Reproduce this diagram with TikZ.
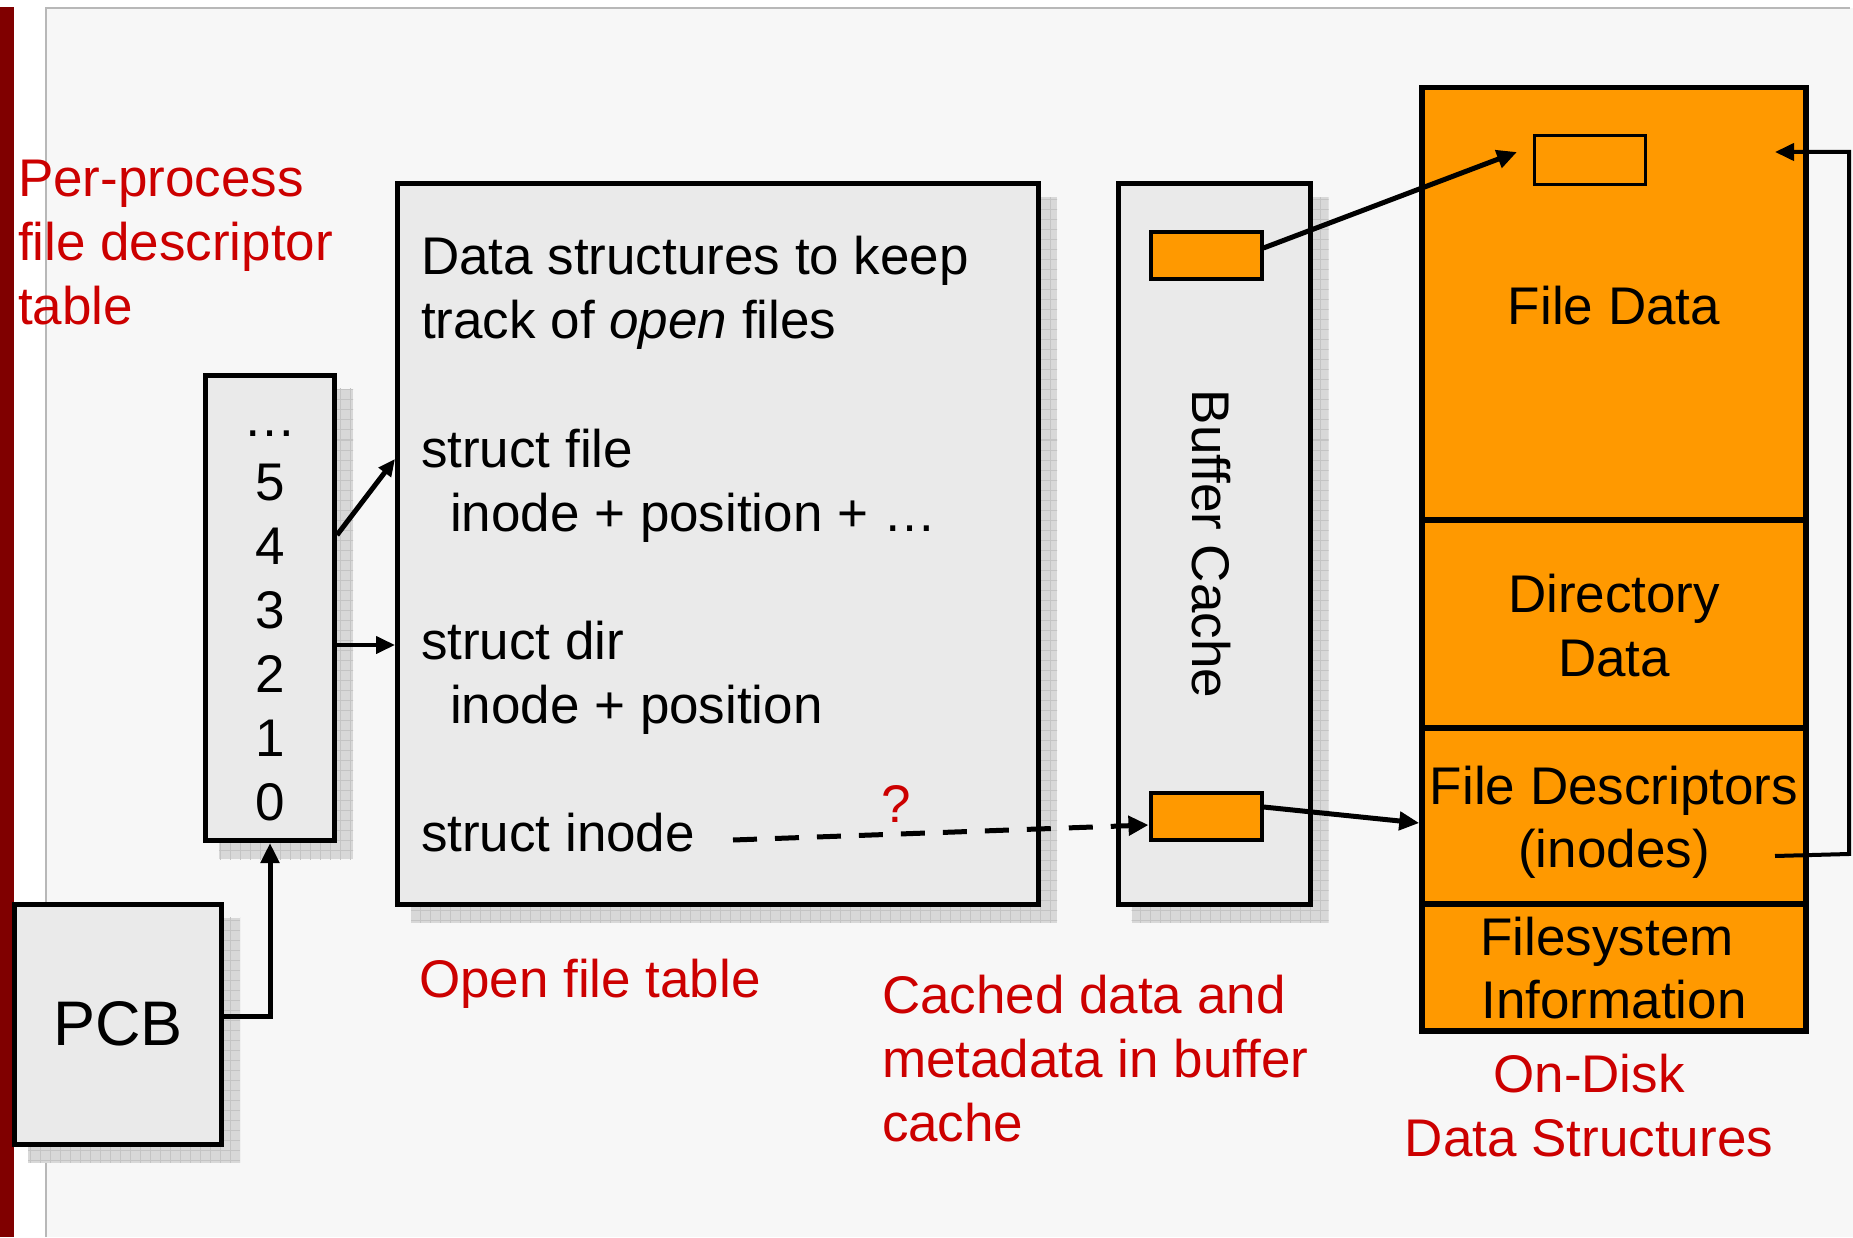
\documentclass[tikz,border=0pt]{standalone}
\usepackage{fontspec}
\setmainfont{Liberation Sans}
\usetikzlibrary{arrows.meta,calc}
\pgfdeclarelayer{back}
\pgfsetlayers{back,main}

\definecolor{slidered}{RGB}{128,0,0}
\definecolor{labelred}{RGB}{204,0,0}
\definecolor{diskorange}{RGB}{255,153,0}
\definecolor{boxgray}{RGB}{234,234,234}
\definecolor{pagebg}{RGB}{247,247,247}
\definecolor{framegray}{RGB}{184,184,184}
\definecolor{shadowfill}{RGB}{216,216,216}
\definecolor{shadowgrid}{RGB}{196,196,196}

\newcommand\mainsize{\fontsize{53pt}{64pt}\selectfont}
\newcommand\pcbsize{\fontsize{63pt}{75pt}\selectfont}

% flat grid-textured drop shadow, offset down-right, under a named box
\newcommand\castshadow[1]{%
  \begin{pgfonlayer}{back}
    \begin{scope}
      \clip ($(#1.north west)+(16,16)$) rectangle ($(#1.south east)+(16,16)$);
      \fill[shadowfill] ($(#1.north west)+(16,16)$) rectangle ($(#1.south east)+(16,16)$);
      \draw[shadowgrid, line width=1pt, step=10pt]
        ($(#1.north west)+(6,6)$) grid ($(#1.south east)+(26,26)$);
    \end{scope}
  \end{pgfonlayer}}

\begin{document}
\begin{tikzpicture}[x=1pt, y=-1pt,
  box/.style={draw, line width=5pt, fill=boxgray, inner sep=0pt},
  disk/.style={draw, line width=5.5pt, fill=diskorange, inner sep=0pt, minimum width=384pt},
  cell/.style={draw, line width=4pt, fill=diskorange, inner sep=0pt,
               minimum width=111pt, minimum height=47pt},
  txt/.style={inner sep=0pt, outer sep=0pt, font=\mainsize, text=black},
  lbl/.style={txt, text=labelred},
  link/.style={line width=5pt, -{Triangle[length=20pt, width=18pt]}},
  thinlink/.style={line width=4pt, -{Triangle[length=19pt, width=17pt]}},
  dashlink/.style={line width=5pt, dash pattern=on 24pt off 18pt,
                   -{Triangle[length=20pt, width=19pt]}}]

% slide background and frame
\begin{pgfonlayer}{back}
  \fill[white] (0,0) rectangle (1853,1237);
  \fill[slidered] (0,7) rectangle (14,1237);
  \fill[pagebg] (46,8) rectangle (1853,1237);
  \draw[framegray, line width=2pt] (46,1237) -- (46,8) -- (1850,8);
\end{pgfonlayer}
\useasboundingbox (0,0) rectangle (1853,1237);

% per-process file descriptor table
\node[box, minimum width=129pt, minimum height=465pt] (fdt) at (270,608) {};
\castshadow{fdt}
\node[txt, anchor=base] (dmore) at (270,436) {…};
\node[txt, anchor=base] (d5) at (270,500) {5};
\node[txt, anchor=base] (d4) at (270,564) {4};
\node[txt, anchor=base] (d3) at (270,628) {3};
\node[txt, anchor=base] (d2) at (270,692) {2};
\node[txt, anchor=base] (d1) at (270,756) {1};
\node[txt, anchor=base] (d0) at (270,820) {0};

% process control block
\node[box, minimum width=207pt, minimum height=240pt, font=\pcbsize] (pcb) at (118,1024) {PCB};
\castshadow{pcb}

% open file table
\node[box, minimum width=641pt, minimum height=720pt] (oft) at (718,544) {};
\castshadow{oft}
\node[txt, anchor=base west] (o1) at (421,275) {Data structures to keep};
\node[txt, anchor=base west] (o2) at (421,339) {track of \textit{open} files};
\node[txt, anchor=base west] (o3) at (421,467) {struct file};
\node[txt, anchor=base west] (o4) at (450,531) {inode + position + …};
\node[txt, anchor=base west] (o5) at (421,659) {struct dir};
\node[txt, anchor=base west] (o6) at (450,723) {inode + position};
\node[txt, anchor=base west] (o7) at (421,851) {struct inode};
\coordinate (inodeend) at (733,840);

% buffer cache
\node[box, minimum width=192pt, minimum height=720pt] (bc) at (1214,544) {};
\castshadow{bc}
\node[txt, rotate=-90] (bclabel) at (1211,544) {Buffer Cache};
\node[cell] (uprect) at (1206,256) {};
\node[cell] (lowrect) at (1206,816) {};

% on-disk layout
\node[disk, minimum height=432.5pt] (fdata) at (1614,303.75) {};
\node[disk, minimum height=208pt] (ddata) at (1614,624) {};
\node[disk, minimum height=176pt] (fdesc) at (1614,816) {};
\node[disk, minimum height=127pt] (fsinfo) at (1614,967.5) {};
\node[draw, line width=3.3pt, inner sep=0pt, minimum width=111pt, minimum height=48.5pt] (block) at (1590,160) {};
\node[txt, anchor=base] (fdl) at (1614,325) {File Data};
\node[txt, anchor=base] (ddl1) at (1614,612) {Directory};
\node[txt, anchor=base] (ddl2) at (1614,676) {Data};
\node[txt, anchor=base] (fdl1) at (1614,804) {File Descriptors};
\node[txt, anchor=base] (fdl2) at (1614,867) {(inodes)};
\node[txt, anchor=base] (fsl1) at (1607,955) {Filesystem};
\node[txt, anchor=base] (fsl2) at (1614,1018) {Information};
\coordinate (blocktip) at (1517,152);
\coordinate (loopstart) at (1775,856);
\coordinate (looptip) at (1775,152);

% captions
\node[lbl, anchor=base west] (c1) at (18,197) {Per-process};
\node[lbl, anchor=base west] (c2) at (18,261) {file descriptor};
\node[lbl, anchor=base west] (c3) at (18,325) {table};
\node[lbl, anchor=base west] (c4) at (419,997) {Open file table};
\node[lbl, anchor=base west] (c5) at (882,1013) {Cached data and};
\node[lbl, anchor=base west] (c6) at (882,1077) {metadata in buffer};
\node[lbl, anchor=base west] (c7) at (882,1141) {cache};
\node[lbl, anchor=base] (c8) at (1589,1092) {On-Disk};
\node[lbl, anchor=base] (c9) at (1589,1156) {Data Structures};
\node[lbl, anchor=base] (qmark) at (896,822) {?};

% connectors
\draw[link, -{Triangle[length=17pt, width=15pt]}] (fdt.east |- 0,535) -- (oft.west |- 0,459);
\draw[thinlink] (fdt.east |- 0,645) -- (oft.west |- 0,645);
\draw[link] (pcb.east |- 0,1016) -| (fdt.south);
\draw[dashlink] (inodeend) -- (lowrect.west |- 0,825);
\draw[link] (uprect.east |- 0,248) -- (blocktip);
\draw[link] (lowrect.east |- 0,807) -- (fdesc.west |- 0,823);
\draw[thinlink] (loopstart) -- (1849,854) |- (looptip);

\end{tikzpicture}
\end{document}
